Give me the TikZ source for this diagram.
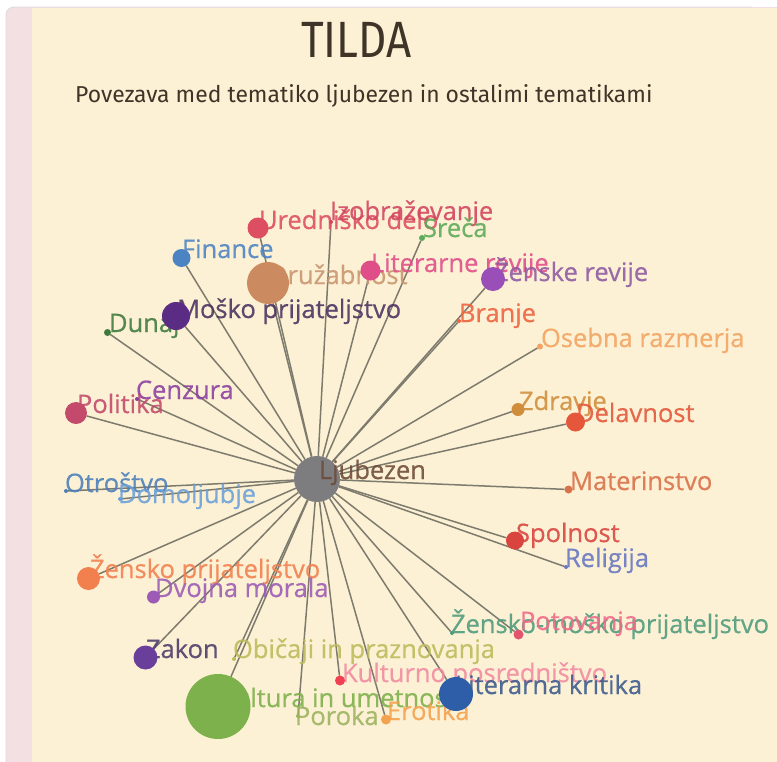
\documentclass[tikz,border=0pt]{standalone}
\usepackage{fontspec}
\usepackage{graphicx}
\setmainfont{Open Sans}
\newfontfamily\lblfont{Open Sans}[FakeBold=0.6]
\newfontfamily\titlefont{Fira Sans}
\pgfdeclarelayer{back}\pgfdeclarelayer{edges}\pgfdeclarelayer{fore}\pgfdeclarelayer{top}
\pgfsetlayers{back,edges,main,fore,top}
\definecolor{cream}{HTML}{FCF1D4}
\definecolor{pinkstrip}{HTML}{F3E0E3}
\definecolor{bordergray}{HTML}{DDDADA}
\definecolor{titlecol}{HTML}{3F3428}
\definecolor{edgecol}{HTML}{7E7B6E}
\definecolor{cLj}{HTML}{7D7D80}
\definecolor{tLj}{HTML}{6E4B3A}
\definecolor{cUredn}{HTML}{DD4E63}
\definecolor{cIzobr}{HTML}{D24560}
\definecolor{cSreca}{HTML}{5DAA5A}
\definecolor{cFin}{HTML}{4C83C3}
\definecolor{cDruz}{HTML}{CC8A60}
\definecolor{tDruz}{HTML}{C99570}
\definecolor{cLitrev}{HTML}{E04E8A}
\definecolor{cZenrev}{HTML}{9A4EB8}
\definecolor{tZenrev}{HTML}{8E5AA3}
\definecolor{cMosko}{HTML}{5B2C83}
\definecolor{tMosko}{HTML}{4B3160}
\definecolor{cDunaj}{HTML}{3F7A3D}
\definecolor{cBranje}{HTML}{EE6240}
\definecolor{cOsebna}{HTML}{F3A462}
\definecolor{cCenz}{HTML}{8B3FA0}
\definecolor{cPol}{HTML}{C34A6B}
\definecolor{cZdr}{HTML}{D08E3D}
\definecolor{cDel}{HTML}{E4573B}
\definecolor{cOtr}{HTML}{4B7FBC}
\definecolor{cDom}{HTML}{6BA0D8}
\definecolor{cMat}{HTML}{D9714A}
\definecolor{cSpol}{HTML}{D9443F}
\definecolor{cRel}{HTML}{6677C3}
\definecolor{cZprij}{HTML}{F2804F}
\definecolor{cDvoj}{HTML}{9D5BB5}
\definecolor{cZM}{HTML}{4E9B7C}
\definecolor{cPot}{HTML}{E4536E}
\definecolor{tPot}{HTML}{F06A8A}
\definecolor{cZakon}{HTML}{6A3F9C}
\definecolor{tZakon}{HTML}{4E3D6B}
\definecolor{cObic}{HTML}{BDBB5C}
\definecolor{cKposr}{HTML}{F04052}
\definecolor{tKposr}{HTML}{F28BA3}
\definecolor{cKult}{HTML}{7DB14B}
\definecolor{cLitkr}{HTML}{2F5EA9}
\definecolor{tLitkr}{HTML}{3B5A8E}
\definecolor{cPor}{HTML}{9DB35F}
\definecolor{cEro}{HTML}{F3A24F}
\begin{document}
\begin{tikzpicture}[x=1pt,y=-1pt,
  dot/.style={circle,inner sep=0pt,outer sep=0pt,draw=none},
  lbl/.style={anchor=base west,inner sep=0pt,outer sep=0pt,font=\lblfont\fontsize{25.5}{29}\selectfont,text opacity=0.88},
  edge/.style={draw=edgecol,line width=1.5pt}]
\useasboundingbox (0,0) rectangle (777,761);
\begin{pgfonlayer}{back}
\fill[white] (0,0) rectangle (777,761);
\fill[pinkstrip,rounded corners=8pt] (6,7) rectangle (800,800);
\fill[cream] (32,7.6) rectangle (800,800);
\draw[bordergray,line width=0.8pt,rounded corners=8pt] (6,800) -- (6,7) -- (752,7);
\end{pgfonlayer}
\node[anchor=base,inner sep=0pt,text=titlecol,font=\titlefont\fontsize{51}{56}\selectfont] (title) at (356.5,57) {\scalebox{0.86}[1]{TILDA}};
\node[anchor=base west,inner sep=0pt,text=titlecol,font=\titlefont\fontsize{23}{27}\selectfont] (subtitle) at (75,102) {\scalebox{0.995}[1]{Povezava med tematiko ljubezen in ostalimi tematikami}};
% circles
\begin{pgfonlayer}{fore}
\node[dot,fill=cLj,minimum size=46pt] (lj) at (317,479) {};
\node[dot,fill=cUredn,minimum size=21pt] (uredn) at (258,228) {};
\node[dot,fill=cIzobr,minimum size=4pt] (izobr) at (331,222) {};
\node[dot,fill=cSreca,minimum size=6pt] (sreca) at (422,238) {};
\node[dot,fill=cFin,minimum size=18pt] (fin) at (181.5,258) {};
\node[dot,fill=cDruz,minimum size=42pt] (druz) at (268,283) {};
\node[dot,fill=cLitrev,minimum size=20pt] (litrev) at (370.5,270.5) {};
\node[dot,fill=cZenrev,minimum size=24pt] (zenrev) at (493,279) {};
\node[dot,fill=cMosko,minimum size=28pt] (mosko) at (176,316) {};
\node[dot,fill=cDunaj,minimum size=7pt] (dunaj) at (107.5,332.5) {};
\node[dot,fill=cBranje,minimum size=4pt] (branje) at (459,321) {};
\node[dot,fill=cOsebna,minimum size=6pt] (osebna) at (540,346.5) {};
\node[dot,fill=cCenz,minimum size=4pt] (cenz) at (137,399) {};
\node[dot,fill=cPol,minimum size=22pt] (pol) at (76,413) {};
\node[dot,fill=cZdr,minimum size=13pt] (zdr) at (518,409.5) {};
\node[dot,fill=cDel,minimum size=19pt] (del) at (575.5,422) {};
\node[dot,fill=cOtr,minimum size=4pt] (otr) at (66,491) {};
\node[dot,fill=cDom,minimum size=4pt] (dom) at (120,499) {};
\node[dot,fill=cMat,minimum size=8pt] (mat) at (568.5,489.5) {};
\node[dot,fill=cSpol,minimum size=18pt] (spol) at (515,540.5) {};
\node[dot,fill=cRel,minimum size=4pt] (rel) at (566,567) {};
\node[dot,fill=cZprij,minimum size=23pt] (zprij) at (88.5,578.5) {};
\node[dot,fill=cDvoj,minimum size=13pt] (dvoj) at (153.5,597) {};
\node[dot,fill=cZM,minimum size=4pt] (zm) at (452,633) {};
\node[dot,fill=cPot,minimum size=10pt] (pot) at (518.5,634.5) {};
\node[dot,fill=cZakon,minimum size=24pt] (zakon) at (145.5,657.5) {};
\node[dot,fill=cObic,minimum size=4pt] (obic) at (234,659) {};
\node[dot,fill=cKposr,minimum size=10pt] (kposr) at (340,680.5) {};
\node[dot,fill=cKult,minimum size=65pt] (kult) at (218,706.5) {};
\node[dot,fill=cLitkr,minimum size=34pt] (litkr) at (456,694) {};
\node[dot,fill=cPor,minimum size=4pt] (por) at (298,716) {};
\node[dot,fill=cEro,minimum size=10pt] (ero) at (386,719.5) {};
\end{pgfonlayer}
% labels
\begin{pgfonlayer}{top}
\node[lbl,text=tLj] (tlj) at (319,479) {Ljubezen};
\end{pgfonlayer}
\node[lbl,text=cUredn] (turedn) at (259,229) {Uredniško delo};
\node[lbl,text=cIzobr] (tizobr) at (330,220) {Izobraževanje};
\node[lbl,text=cSreca] (tsreca) at (423,237) {Sreča};
\node[lbl,text=cFin] (tfin) at (182,258) {Finance};
\node[lbl,text=tDruz] (tdruz) at (269,284) {Družabnost};
\node[lbl,text=cLitrev] (tlitrev) at (371,272) {Literarne revije};
\node[lbl,text=tZenrev] (tzenrev) at (494,281) {Ženske revije};
\node[lbl,text=tMosko] (tmosko) at (177,318) {Moško prijateljstvo};
\node[lbl,text=cDunaj] (tdunaj) at (109,332) {Dunaj};
\node[lbl,text=cBranje] (tbranje) at (459,322) {Branje};
\node[lbl,text=cOsebna] (tosebna) at (541,347) {Osebna razmerja};
\node[lbl,text=cCenz] (tcenz) at (136,399) {Cenzura};
\node[lbl,text=cPol] (tpol) at (77,413) {Politika};
\node[lbl,text=cZdr] (tzdr) at (519,410) {Zdravje};
\node[lbl,text=cDel] (tdel) at (576,422) {Delavnost};
\node[lbl,text=cOtr] (totr) at (65,492) {Otroštvo};
\node[lbl,text=cDom] (tdom) at (118,503) {Domoljubje};
\node[lbl,text=cMat] (tmat) at (570,490) {Materinstvo};
\node[lbl,text=cSpol] (tspol) at (516,542) {Spolnost};
\node[lbl,text=cRel] (trel) at (565,567) {Religija};
\node[lbl,text=cZprij] (tzprij) at (90,578) {Žensko prijateljstvo};
\node[lbl,text=cDvoj] (tdvoj) at (155,597) {Dvojna morala};
\node[lbl,text=cZM] (tzm) at (451,633) {Žensko-moško prijateljstvo};
\node[lbl,text=tPot] (tpot) at (520,630) {Potovanja};
\node[lbl,text=tZakon] (tzakon) at (146,658) {Zakon};
\node[lbl,text=cObic] (tobic) at (233,658) {Običaji in praznovanja};
\node[lbl,text=tKposr] (tkposr) at (342,682) {Kulturno posredništvo};
\node[lbl,text=cKult] (tkult) at (219,707) {Kultura in umetnost};
\node[lbl,text=tLitkr] (tlitkr) at (455,694) {Literarna kritika};
\node[lbl,text=cPor] (tpor) at (295,725) {Poroka};
\node[lbl,text=cEro] (tero) at (387,720) {Erotika};
% edges
\begin{pgfonlayer}{edges}
\foreach \n in {uredn,izobr,sreca,fin,druz,litrev,zenrev,mosko,dunaj,branje,osebna,cenz,pol,zdr,del,otr,dom,mat,spol,rel,zprij,dvoj,zm,pot,zakon,obic,kposr,kult,litkr,por,ero}
  \draw[edge] (lj) -- (\n);
\end{pgfonlayer}
\end{tikzpicture}
\end{document}
